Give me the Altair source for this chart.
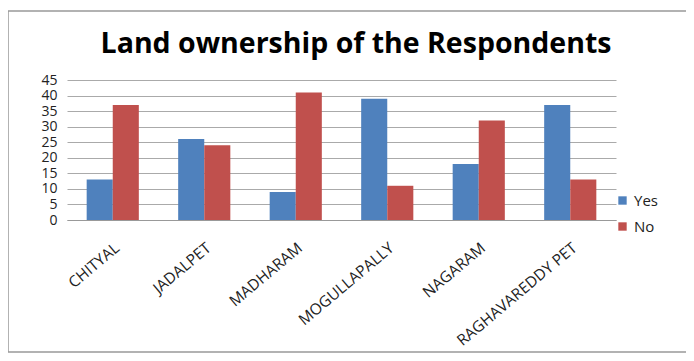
import altair as alt
import pandas as pd

villages = ["CHITYAL", "JADALPET", "MADHARAM", "MOGULLAPALLY", "NAGARAM", "RAGHAVAREDDY PET"]
yes_vals = [13, 26, 9, 39, 18, 37]
no_vals = [37, 24, 41, 11, 32, 13]
series = ["Yes", "No"]
colors = ["#4F81BD", "#C0504D"]
title_text = ["Land ownership of the Respondents"]

rows = []
for v, y, n in zip(villages, yes_vals, no_vals):
    rows.append({"Village": v, "Series": "Yes", "Count": y})
    rows.append({"Village": v, "Series": "No", "Count": n})
df = pd.DataFrame(rows)

bars = alt.Chart(df).mark_bar().encode(
    x=alt.X("Village:N", sort=villages, title=None,
            scale=alt.Scale(paddingInner=0.43, paddingOuter=0.215),
            axis=alt.Axis(labelAngle=-40, labelFontSize=15.5, labelColor="#222",
                          labelFont="Open Sans", domainColor="#999", ticks=False,
                          labelPadding=20, grid=False)),
    xOffset=alt.XOffset("Series:N", sort=series),
    y=alt.Y("Count:Q", title=None,
            scale=alt.Scale(domain=[0, 45]),
            axis=alt.Axis(values=list(range(0, 50, 5)), labelFontSize=14,
                          labelColor="#222", labelFont="Open Sans", domain=False,
                          ticks=False, gridColor="#aaa", labelPadding=10)),
    color=alt.Color("Series:N", sort=series,
                    scale=alt.Scale(domain=series, range=colors),
                    legend=alt.Legend(title=None, orient="none", legendX=548, legendY=113,
                                      symbolType="square", symbolSize=70,
                                      labelFontSize=15, labelFont="Open Sans",
                                      labelColor="#222", rowPadding=10,
                                      symbolStrokeWidth=0)),
)

frame = alt.Chart(pd.DataFrame({"a": [0]})).mark_rect(
    fill="transparent", stroke="#999", strokeWidth=1.5
).encode(
    x=alt.value(-59), x2=alt.value(640), y=alt.value(-69), y2=alt.value(272)
)

title = alt.Chart(pd.DataFrame({"t": title_text})).mark_text(
    font="Open Sans", fontSize=28.5, fontWeight="bold", color="#000",
    align="center", baseline="alphabetic"
).encode(text="t:N", x=alt.value(289), y=alt.value(-27))

chart = alt.layer(frame, bars, title).properties(
    width=549, height=140,
    autosize=alt.AutoSizeParams(type="none"),
    padding={"left": 59, "top": 72, "right": 70, "bottom": 133},
).configure_view(stroke=None)

chart.save("out.html", embed_options={"renderer": "svg", "actions": False})
